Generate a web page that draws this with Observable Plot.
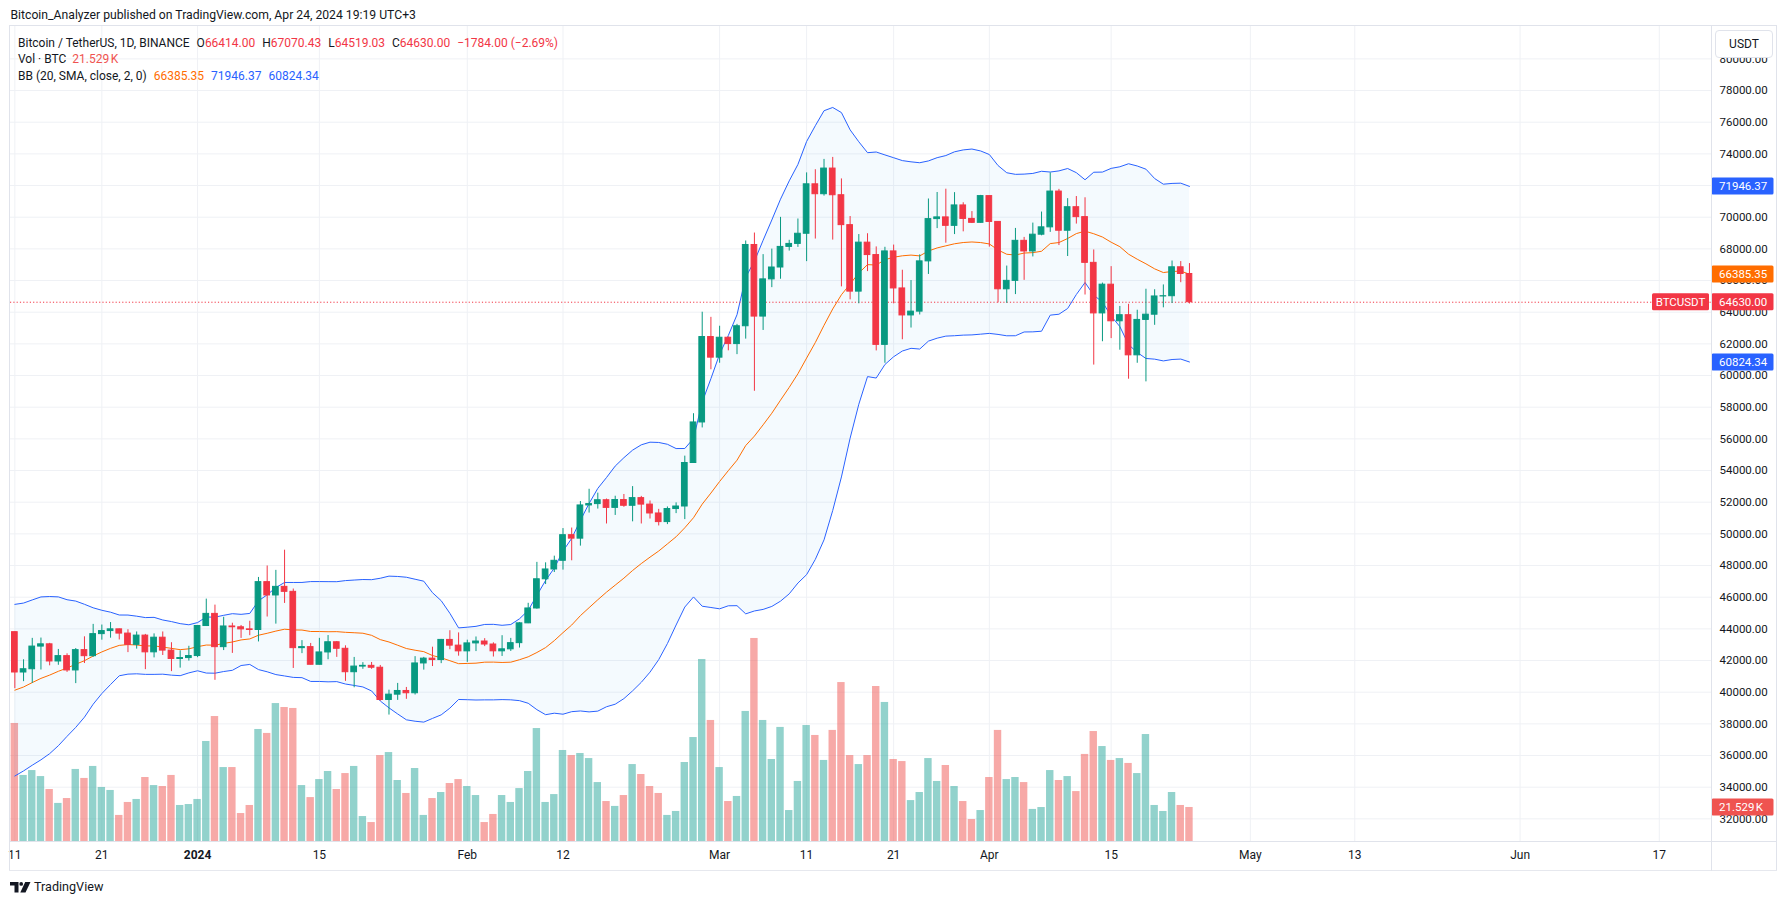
<!DOCTYPE html>
<html>
<head>
<meta charset="utf-8">
<script src="https://cdn.jsdelivr.net/npm/d3@7"></script>
<script src="https://cdn.jsdelivr.net/npm/@observablehq/plot@0.6"></script>
<style>
  body { margin: 0; background: #fff; font-family: Roboto, "Liberation Sans", sans-serif; color: #131722; }
  #wrap { position: relative; width: 1787px; height: 904px; overflow: hidden; background: #fff; }
  .abs { position: absolute; white-space: nowrap; line-height: 16px; }
  .leg { font-size: 12px; }
  .leg span.gap { margin-left: 7px; }
  .line { position: absolute; background: #e0e3eb; }
</style>
</head>
<body>
<div id="wrap"></div>
<script>
// ---------------- DATA ----------------
const firstDay = new Date(Date.UTC(2023, 11, 11));
const lastDayExclusive = new Date(Date.UTC(2024, 3, 25));
const dates = d3.utcDay.range(firstDay, lastDayExclusive); // Dec 11 2023 .. Apr 24 2024

const open = [
  43791,41244,41450,42881,43023,41941,42278,41374,42657,42275,43668,43861,43970,43702,42991,43574,42518,43442,42627,42099,42156,
  42283,44179,44946,42845,44151,44100,43968,43929,46951,46110,46653,46339,42782,42847,41732,42511,43154,42742,41262,41618,41665,41545,39508,39845,40077,39934,41816,42120,42031,43302,42941,
  42580,43082,43200,43011,42582,42708,43098,44349,45288,47132,47751,48299,49917,49699,51795,51880,52124,51642,52137,51774,52258,51849,51288,50744,51568,51728,54476,57037,62432,
  61130,62387,61987,63113,68245,63724,66074,66823,68124,68313,68955,72078,71452,73072,71388,69499,65300,68393,67609,61937,67840,65501,63796,64037,67211,69880,69988,69455,70744,69892,69645,
  71333,69702,65447,65980,68508,67837,68896,69360,71620,69146,70631,70006,67117,63924,65738,63426,63811,61276,63512,63843,64994,65010,66837,66414
];
const high = [
  43808,42048,43400,43420,43085,42700,42424,42757,43497,44283,44242,44398,43988,43946,43804,43650,43683,43804,43124,42612,42899,
  44184,45879,45500,44729,44357,44214,44480,47248,47972,47695,48969,46515,43257,43079,43400,43578,43198,42930,42196,41865,41877,41689,40127,40555,40300,42246,42200,42842,43333,43882,43745,
  43285,43488,43381,43119,43569,43399,44396,45614,48200,48170,48592,50334,50368,52043,52816,52572,52200,52377,52488,52985,52366,52077,51548,51698,51958,54910,57588,64000,63676,
  63114,62433,63231,68499,69000,67637,67985,69990,68541,69887,72800,73000,73650,73777,72419,70043,68904,68956,68124,68100,68240,66650,65999,67622,71150,71561,71769,71552,70913,70355,71377,
  71342,69708,66914,69291,68725,69629,70326,72797,71758,71172,71305,71227,67932,65840,66878,64365,64499,64125,65450,65419,65723,67233,67199,67070.43
];
const low = [
  40222,40666,40556,41400,41666,41700,41250,40542,41811,42206,43286,43412,43300,42500,42720,41424,42167,42318,41300,41520,41965,
  42180,44148,40750,42629,42450,43397,43570,43175,44748,44300,45606,41500,42436,41720,41718,42050,42200,40683,40280,41446,41446,39431,38555,39484,39550,39822,41394,41620,41804,42683,42276,
  41884,42565,42880,42222,42258,42574,42788,44331,45242,46800,47558,47710,48300,49225,51314,51566,50625,51163,51677,50760,50625,50937,50500,50585,51279,50901,54450,56691,60364,
  60777,61561,61320,62300,59005,62848,65551,66082,67861,68094,67194,68620,71333,68555,65600,64780,64533,66565,61555,60775,64529,62260,63000,63825,66385,69280,68359,68903,69076,69601,69624,
  68110,64586,64559,65113,66011,67491,68824,69043,68210,67518,69567,65086,60660,62134,62332,61600,59768,60775,59600,63172,64277,64548,65864,64519.03
];
const close = [
  41244,41450,42881,43023,41941,42278,41374,42657,42275,43668,43861,43970,43702,42991,43574,42518,43442,42627,42099,42156,42283,
  44179,44946,42845,44151,44100,43968,43929,46951,46110,46653,46339,42782,42847,41732,42511,43154,42742,41262,41618,41665,41545,39508,39845,40077,39934,41816,42120,42031,43302,42941,42580,
  43082,43200,43011,42582,42708,43098,44349,45288,47132,47751,48299,49917,49699,51795,51880,52124,51642,52137,51774,52258,51849,51288,50744,51568,51728,54476,57037,62432,61130,
  62387,61987,63113,68245,63724,66074,66823,68124,68313,68955,72078,71452,73072,71388,69499,65300,68393,67609,61937,67840,65501,63796,64037,67211,69880,69988,69455,70744,69892,69645,71333,
  69702,65447,65980,68508,67837,68896,69360,71620,69146,70631,70006,67117,63924,65738,63426,63811,61276,63512,63843,64994,65010,66837,66414,64630
];
// volume, thousands of BTC
const volumeK = [
  74.7,41.8,44.9,41.1,32.9,24.1,27.2,45.6,39.9,47.5,34.2,32.3,16.5,24.7,26.6,40.5,35.4,34.8,41.8,22.8,23.4,
  26.6,63.3,79.1,46.8,46.8,17.7,22.8,70.9,68.4,87.3,84.8,84.2,35.4,27.8,39.2,44.3,32.9,43.0,47.5,15.8,12.0,54.4,56.3,38.6,30.4,46.2,16.5,27.2,31.0,36.7,39.2,
  34.8,29.1,12.0,17.1,29.1,24.7,33.5,44.3,71.5,24.7,29.7,57.6,54.4,55.7,52.5,37.3,25.3,22.2,29.1,48.7,42.4,34.8,30.4,16.5,19.0,50.0,65.8,115.2,76.6,
  46.8,25.3,28.5,82.3,128.5,76.6,51.9,72.2,19.6,38.0,73.4,67.1,51.3,70.3,100.6,54.4,48.7,54.4,98.1,88.0,51.9,50.6,25.9,31.0,52.5,38.0,48.1,34.8,25.3,13.9,19.6,
  40.5,70.3,39.2,40.5,37.3,20.3,21.5,44.9,38.6,41.1,31.6,55.1,69.6,60.1,51.3,52.5,49.4,43.0,67.7,22.8,19.0,31.0,22.8,21.529
];
// closes of the 19 days before the first visible candle (Nov 22 - Dec 10), used only to start the 20-day bands
const warmupCloses = [37420,37290,37720,37800,37480,37250,37830,37860,37720,38690,39460,39970,41980,44080,43770,43290,44170,43720,43790];

// legend values shown by the chart
const bbLegend = { basis: 66385.35, upper: 71946.37, lower: 60824.34 };
const lastVolumeLabel = "21.529\u202FK";
const lastVolumeValue = 21.529;

const priceTicks = d3.range(32000, 80001, 2000);
const xTickDates = ["2023-12-11","2023-12-21","2024-01-01","2024-01-15","2024-02-01","2024-02-12","2024-03-01","2024-03-11","2024-03-21","2024-04-01","2024-04-15","2024-05-01","2024-05-13","2024-06-01","2024-06-17"];
const xTickLabels = ["11","21","2024","15","Feb","12","Mar","11","21","Apr","15","May","13","Jun","17"];
const boldTickLabels = ["2024"];

// ---------------- build ----------------
const UP = "#089981", DOWN = "#f23645";
const VOL_UP = "#26a69a", VOL_DOWN = "#ef5350";
const DAY = 864e5;

const bars = dates.map((d, i) => ({
  date: d, open: open[i], high: high[i], low: low[i], close: close[i], vol: volumeK[i],
  up: close[i] >= open[i]
}));

const allCloses = warmupCloses.concat(close);
const W = warmupCloses.length;
const bands = dates.map((d, i) => {
  const w = allCloses.slice(i + W - 19, i + W + 1);
  const m = d3.mean(w);
  const sd = Math.sqrt(d3.mean(w, v => (v - m) ** 2));
  return { date: d, basis: m, upper: m + 2 * sd, lower: m - 2 * sd };
});

const yMin = 30570, yMax = 82045;
const plotH = 815;
const pxPerPrice = plotH / (yMax - yMin);
const volPxPerK = 1.58;
const volToPrice = volPxPerK / pxPerPrice;

const viewStart = new Date(+firstDay - 0.5 * DAY);
const viewEnd = new Date(Date.UTC(2024, 5, 23));

const tickDates = xTickDates.map(s => new Date(s + "T00:00:00Z"));
const labelOf = new Map(tickDates.map((d, i) => [+d, xTickLabels[i]]));
const normalTicks = tickDates.filter((d, i) => !boldTickLabels.includes(xTickLabels[i]));
const boldTicks = tickDates.filter((d, i) => boldTickLabels.includes(xTickLabels[i]));

const lastClose = close[close.length - 1];
const badges = [
  { value: bbLegend.upper, text: bbLegend.upper.toFixed(2), color: "#2962ff" },
  { value: bbLegend.basis, text: bbLegend.basis.toFixed(2), color: "#ff6d00" },
  { value: lastClose, text: lastClose.toFixed(2), color: "#f23645" },
  { value: bbLegend.lower, text: bbLegend.lower.toFixed(2), color: "#2962ff" },
  { value: yMin + lastVolumeValue * volToPrice, text: lastVolumeLabel, color: "#ef5350" }
];

function badgeMark(index, scales, values, dims) {
  const g = d3.create("svg:g");
  const xr = dims.width - dims.marginRight;
  for (const b of badges) {
    const y = scales.y(b.value);
    g.append("rect").attr("x", xr + 0.5).attr("y", y - 8.5).attr("width", 62).attr("height", 17)
      .attr("rx", 1.5).attr("fill", b.color);
    g.append("text").attr("x", xr + 8).attr("y", y).attr("dy", "0.36em")
      .attr("text-anchor", "start")
      .attr("fill", "#fff").attr("font-size", 11.5).text(b.text);
  }
  // symbol badge at the end of the price line
  const yp = scales.y(lastClose);
  g.append("rect").attr("x", xr - 59).attr("y", yp - 8.5).attr("width", 57).attr("height", 17)
    .attr("rx", 1.5).attr("fill", "#f23645");
  g.append("text").attr("x", xr - 30.5).attr("y", yp).attr("dy", "0.36em").attr("text-anchor", "middle")
    .attr("fill", "#fff").attr("font-size", 11.5).text("BTCUSDT");
  return g.node();
}

const halfBody = 0.3276 * DAY, halfVol = 0.425 * DAY;

const chart = Plot.plot({
  width: 1787,
  height: 845,
  marginTop: 0,
  marginRight: 76,
  marginBottom: 30,
  marginLeft: 10,
  style: { fontFamily: "Roboto, 'Liberation Sans', sans-serif", fontSize: "12px", color: "#131722", background: "transparent", overflow: "visible" },
  x: { type: "utc", domain: [viewStart, viewEnd] },
  y: { domain: [yMin, yMax] },
  marks: [
    Plot.gridY(priceTicks, { stroke: "#eff1f5", strokeOpacity: 1 }),
    Plot.gridX(tickDates, { stroke: "#eff1f5", strokeOpacity: 1 }),
    // volume
    Plot.rect(bars, {
      x1: d => new Date(+d.date - halfVol), x2: d => new Date(+d.date + halfVol),
      y1: yMin, y2: d => yMin + d.vol * volToPrice,
      fill: d => d.up ? VOL_UP : VOL_DOWN, fillOpacity: 0.5
    }),
    // Bollinger bands
    Plot.areaY(bands, { x: "date", y1: "lower", y2: "upper", fill: "#2196f3", fillOpacity: 0.05, curve: "linear" }),
    Plot.line(bands, { x: "date", y: "upper", stroke: "#2962ff", strokeWidth: 1 }),
    Plot.line(bands, { x: "date", y: "lower", stroke: "#2962ff", strokeWidth: 1 }),
    Plot.line(bands, { x: "date", y: "basis", stroke: "#ff6d00", strokeWidth: 1 }),
    // last price line
    Plot.ruleY([lastClose], { stroke: "#f23645", strokeWidth: 1, strokeDasharray: "1.2,2.1" }),
    // candles
    Plot.ruleX(bars, { x: "date", y1: "low", y2: "high", stroke: d => d.up ? UP : DOWN, strokeWidth: 1 }),
    Plot.rect(bars, {
      x1: d => new Date(+d.date - halfBody), x2: d => new Date(+d.date + halfBody),
      y1: "open", y2: "close",
      fill: d => d.up ? UP : DOWN, stroke: d => d.up ? UP : DOWN, strokeWidth: 1
    }),
    // axes
    Plot.axisY(priceTicks, { anchor: "right", tickSize: 0, tickPadding: 8, tickFormat: d => d.toFixed(2), fontSize: 11.5, fill: "#131722", label: null }),
    Plot.axisX(normalTicks, { anchor: "bottom", tickSize: 0, tickPadding: 9, tickFormat: d => labelOf.get(+d), fontSize: 12, fill: "#131722", label: null }),
    Plot.axisX(boldTicks, { anchor: "bottom", tickSize: 0, tickPadding: 9, tickFormat: d => labelOf.get(+d), fontSize: 12, fontWeight: "bold", fill: "#131722", label: null }),
    badgeMark
  ]
});

// ---------------- page ----------------
const wrap = document.getElementById("wrap");

const header = document.createElement("div");
header.className = "abs";
header.style.cssText = "left:10.5px;top:7px;font-size:12.2px;color:#131722;";
header.textContent = "Bitcoin_Analyzer published on TradingView.com, Apr 24, 2024 19:19 UTC+3";
wrap.appendChild(header);

chart.style.position = "absolute";
chart.style.left = "0px";
chart.style.top = "26px";
wrap.appendChild(chart);

// frame lines
function line(l, t, w, h, color) {
  const e = document.createElement("div");
  e.className = "line";
  e.style.cssText = `left:${l}px;top:${t}px;width:${w}px;height:${h}px;` + (color ? `background:${color};` : "");
  wrap.appendChild(e);
}
line(9, 25, 1768, 1);       // top
line(9, 25, 1, 846);        // left
line(1776, 25, 1, 846);     // right
line(9, 870, 1768, 1, "#e6e8ee"); // bottom
line(1711, 25, 1, 846);     // price-axis separator
line(9, 841, 1768, 1);      // time-axis separator

// legend
const R = "#f23645";
const fmt = v => v.toFixed(2);
const n = close.length - 1;
const chg = close[n] - close[n - 1];
const pct = chg / close[n - 1] * 100;
const minus = v => (v < 0 ? "\u2212" : "") + Math.abs(v).toFixed(2);
const leg = document.createElement("div");
leg.className = "abs leg";
leg.style.cssText = "left:18px;top:34.5px;";
leg.innerHTML =
  `<div>Bitcoin / TetherUS, 1D, BINANCE` +
  `<span class="gap">O<span style="color:${R}">${fmt(open[n])}</span></span>` +
  `<span class="gap">H<span style="color:${R}">${fmt(high[n])}</span></span>` +
  `<span class="gap">L<span style="color:${R}">${fmt(low[n])}</span></span>` +
  `<span class="gap">C<span style="color:${R}">${fmt(close[n])}</span></span>` +
  `<span class="gap" style="color:${R}">${minus(chg)} (${minus(pct)}%)</span></div>` +
  `<div style="margin-top:0.5px">Vol \u00b7 BTC<span class="gap" style="color:#ef5350;margin-left:6px">${lastVolumeLabel}</span></div>` +
  `<div style="margin-top:0.5px">BB (20, SMA, close, 2, 0)` +
  `<span class="gap" style="color:#ff6d00">${fmt(bbLegend.basis)}</span>` +
  `<span class="gap" style="color:#2962ff">${fmt(bbLegend.upper)}</span>` +
  `<span class="gap" style="color:#2962ff">${fmt(bbLegend.lower)}</span></div>`;
wrap.appendChild(leg);

// currency button
const usdt = document.createElement("div");
usdt.className = "abs";
usdt.style.cssText = "left:1715px;top:30px;width:56px;height:26px;line-height:26px;border:1px solid #e0e3eb;border-radius:4px;background:#fff;text-align:center;font-size:12px;color:#131722;";
usdt.textContent = "USDT";
wrap.appendChild(usdt);

// TradingView footer
const foot = document.createElement("div");
foot.className = "abs";
foot.style.cssText = "left:10px;top:879px;font-size:12.6px;color:#131722;display:flex;align-items:center;";
foot.innerHTML = `<svg width="21" height="11" viewBox="0 0 21 11" style="margin-right:3px"><path d="M0 0h8.5v10.5h-4V3.6H0z" fill="#131722"/><circle cx="11.2" cy="1.9" r="1.9" fill="#131722"/><path d="M15.2 0h5.3l-5 10.5h-5.2z" fill="#131722"/></svg><span>TradingView</span>`;
wrap.appendChild(foot);
</script>
</body>
</html>
